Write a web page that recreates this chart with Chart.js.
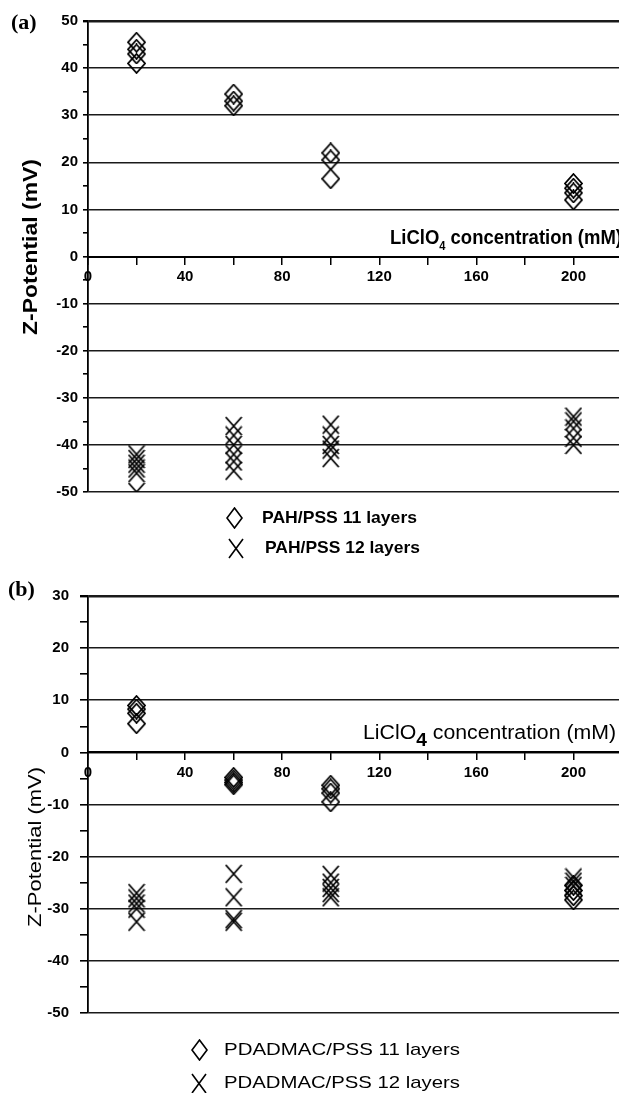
<!DOCTYPE html>
<html>
<head>
<meta charset="utf-8">
<script src="https://cdn.jsdelivr.net/npm/chart.js@4/dist/chart.umd.min.js"></script>
<style>
  body { margin: 0; background: #fff; width: 619px; height: 1093px; overflow: hidden; position: relative; }
  canvas { position: absolute; left: 0; }
</style>
</head>
<body>
<canvas id="chart-a" width="632" height="566" style="top:0"></canvas>
<canvas id="chart-b" width="632" height="527" style="top:566px"></canvas>
<script>
// Concentrações de LiClO4 (mM) e leituras de potencial zeta (mV), várias medidas por ponto
const concentrations = [20, 60, 100, 200];
const pah11 = [[45.5, 44, 43, 41], [34.5, 33, 32], [22, 20.5, 16.5], [15.5, 14.5, 13.5, 12]];
const pah12 = [[-42, -43, -44, -45, -46, -50], [-36, -38, -40, -42, -43.5, -45.5], [-35.7, -38, -40, -41, -42.8], [-34, -35, -36.5, -38.5, -40]];
const pdadmac11 = [[9, 8.3, 7.5, 5.5], [-4.8, -5.3, -5.8, -6.2], [-6.3, -7, -7.8, -9.5], [-25.5, -26.5, -27.5, -28.3]];
const pdadmac12 = [[-27, -28, -29, -30, -32.5], [-23.3, -27.8, -32, -32.5], [-23.5, -25, -26, -27, -27.8], [-24, -24.8, -25.6]];
const xTickLabels = [0, 40, 80, 120, 160, 200];
const yRangeA = [-50, 50];
const yRangeB = [-50, 30];

function toPoints(groups) {
  return groups.flatMap((vals, i) => vals.map(v => ({ x: concentrations[i], y: v })));
}

// Marcadores desenhados à mão (losango vazado e X)
function makeDiamond(w, h, lw) {
  const c = document.createElement('canvas');
  c.width = w; c.height = h;
  const g = c.getContext('2d');
  g.strokeStyle = '#000'; g.lineWidth = lw;
  g.beginPath();
  g.moveTo(w / 2, 1); g.lineTo(w - 1, h / 2); g.lineTo(w / 2, h - 1); g.lineTo(1, h / 2);
  g.closePath(); g.stroke();
  return c;
}
function makeCross(w, h, lw) {
  const c = document.createElement('canvas');
  c.width = w; c.height = h;
  const g = c.getContext('2d');
  g.strokeStyle = '#000'; g.lineWidth = lw;
  g.beginPath();
  g.moveTo(1, 1); g.lineTo(w - 1, h - 1);
  g.moveTo(w - 1, 1); g.lineTo(1, h - 1);
  g.stroke();
  return c;
}
const diamond = makeDiamond(19, 21, 1.8);
const cross = makeCross(18, 20, 1.8);
const diamondLeg = makeDiamond(17, 22, 1.6);
const crossLeg = makeCross(16, 21, 1.6);

// Texto esticado para caber numa largura
function fitParts(ctx, parts, x, y, len) {
  let total = 0;
  parts.forEach(p => { ctx.font = p.font; p.w = ctx.measureText(p.text).width; total += p.w; });
  ctx.save();
  ctx.translate(x, y);
  ctx.scale(len / total, 1);
  let cx = 0;
  parts.forEach(p => { ctx.font = p.font; ctx.fillText(p.text, cx, p.dy || 0); cx += p.w; });
  ctx.restore();
}

const decor = {
  id: 'decor',
  afterDraw(chart, args, o) {
    const ctx = chart.ctx;
    ctx.save();
    ctx.fillStyle = '#000';
    ctx.textAlign = 'left';
    ctx.textBaseline = 'middle';
    ctx.font = 'bold 22px "Liberation Serif"';
    ctx.fillText(o.panel, o.panelX, o.panelY);

    ctx.save();
    ctx.translate(o.titleX, o.titleY);
    ctx.rotate(-Math.PI / 2);
    fitParts(ctx, [{ text: 'Z-Potential (mV)', font: o.titleFont }], -o.titleLen / 2, 0, o.titleLen);
    ctx.restore();

    fitParts(ctx, [
      { text: 'LiClO', font: o.concFont },
      { text: '4', font: o.subFont, dy: o.subDy },
      { text: ' concentration (mM)', font: o.concFont }
    ], o.concX, o.concY, o.concLen);

    chart.data.datasets.forEach((ds, i) => {
      const r = o.legendRows[i];
      const m = ds.legendMarker;
      ctx.drawImage(m, Math.round(r.mx - m.width / 2), Math.round(r.y - m.height / 2));
      fitParts(ctx, [{ text: ds.label, font: o.legendFont }], r.tx, r.y, o.legendLen);
    });
    ctx.restore();
  }
};

const tickFont = { family: 'Liberation Sans', size: 15, weight: 'bold' };

function buildScales(yRange, yTickLen, yPad) {
  return {
    x: {
      type: 'linear', min: 0, max: 220, position: { y: 0 },
      border: { color: '#000', width: 2 },
      grid: { drawOnChartArea: false, drawTicks: true, tickLength: 7, tickColor: '#000', lineWidth: 1.5 },
      ticks: {
        stepSize: 20, autoSkip: false, maxRotation: 0, padding: 4, color: '#000', font: tickFont,
        callback: v => xTickLabels.includes(v) ? String(v) : ''
      },
      afterFit: s => { s.paddingLeft = 0; s.paddingRight = 0; }
    },
    y: {
      min: yRange[0], max: yRange[1],
      border: { color: '#000', width: 1.8 },
      grid: {
        color: c => c.tick.value % 10 === 0 ? '#1a1a1a' : 'rgba(0,0,0,0)',
        lineWidth: c => c.tick.value === yRange[1] ? 2.4 : 1.6,
        tickColor: '#000', tickLength: yTickLen
      },
      ticks: {
        stepSize: 5, autoSkip: false, padding: yPad, color: '#000', font: tickFont,
        callback: v => v % 10 === 0 ? String(v) : ''
      },
      afterFit: s => { s.width = 78; }
    }
  };
}

function scatterSet(label, groups, marker, legendMarker) {
  return {
    label, data: toPoints(groups),
    pointStyle: marker, legendMarker,
    pointRadius: 9, pointHoverRadius: 9,
    showLine: false, clip: 0
  };
}

new Chart(document.getElementById('chart-a').getContext('2d'), {
  type: 'scatter',
  data: {
    datasets: [
      scatterSet('PAH/PSS 11 layers', pah11, diamond, diamondLeg),
      scatterSet('PAH/PSS 12 layers', pah12, cross, crossLeg)
    ]
  },
  options: {
    responsive: false, animation: false, events: [],
    layout: { padding: { left: 10, top: 21, right: 0, bottom: 74 } },
    scales: buildScales(yRangeA, 5, 5),
    plugins: {
      legend: { display: false }, tooltip: { enabled: false },
      decor: {
        panel: '(a)', panelX: 11, panelY: 23,
        titleX: 31, titleY: 247, titleLen: 176, titleFont: 'bold 20px "Liberation Sans"',
        concX: 390, concY: 238, concLen: 232, concFont: 'bold 20px "Liberation Sans"', subFont: 'bold 12px "Liberation Sans"', subDy: 9,
        legendFont: 'bold 17px "Liberation Sans"', legendLen: 155,
        legendRows: [{ mx: 234, tx: 262, y: 518 }, { mx: 236, tx: 265, y: 548 }]
      }
    }
  },
  plugins: [decor]
});

new Chart(document.getElementById('chart-b').getContext('2d'), {
  type: 'scatter',
  data: {
    datasets: [
      scatterSet('PDADMAC/PSS 11 layers', pdadmac11, diamond, diamondLeg),
      scatterSet('PDADMAC/PSS 12 layers', pdadmac12, cross, crossLeg)
    ]
  },
  options: {
    responsive: false, animation: false, events: [],
    layout: { padding: { left: 10, top: 30, right: 0, bottom: 80 } },
    scales: buildScales(yRangeB, 8, 11),
    plugins: {
      legend: { display: false }, tooltip: { enabled: false },
      decor: {
        panel: '(b)', panelX: 8, panelY: 24,
        titleX: 36, titleY: 281, titleLen: 160, titleFont: '18px "Liberation Sans"',
        concX: 363, concY: 167, concLen: 253, concFont: '20px "Liberation Sans"', subFont: 'bold 18px "Liberation Sans"', subDy: 8,
        legendFont: '17px "Liberation Sans"', legendLen: 236,
        legendRows: [{ mx: 199, tx: 224, y: 484 }, { mx: 199, tx: 224, y: 517 }]
      }
    }
  },
  plugins: [decor]
});
</script>
</body>
</html>
